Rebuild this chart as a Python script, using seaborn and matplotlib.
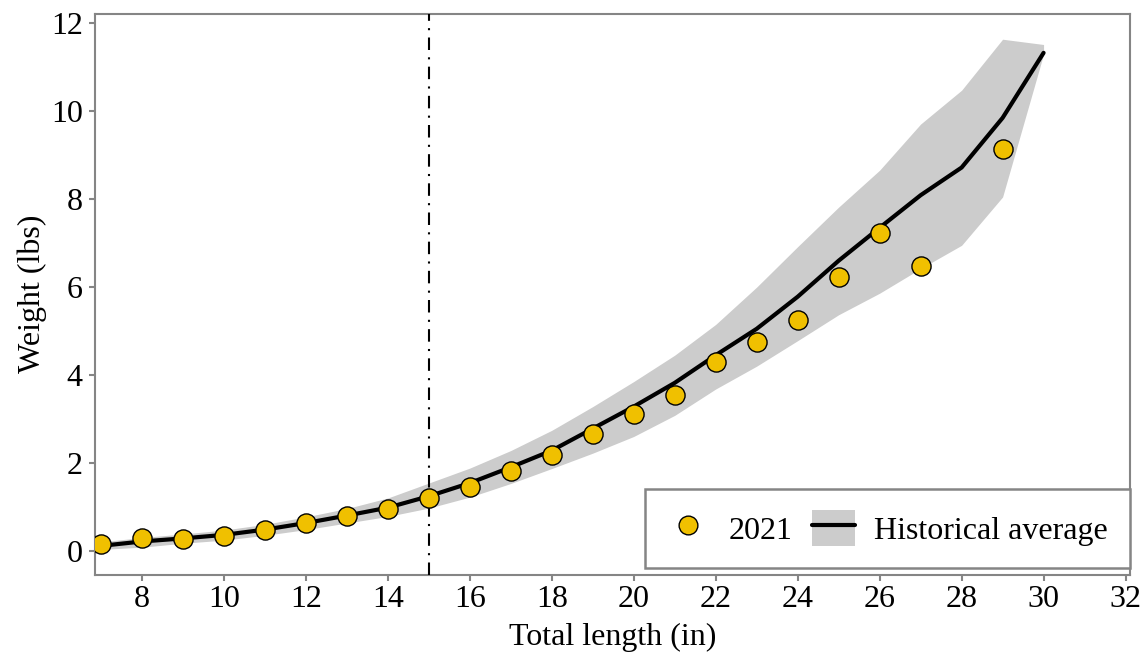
import matplotlib
matplotlib.use("Agg")
import matplotlib.pyplot as plt
from matplotlib.lines import Line2D
from matplotlib.patches import Patch
from matplotlib.legend_handler import HandlerTuple
import numpy as np
import pandas as pd
import seaborn as sns

# Historical length-weight relationship (mean with min/max envelope)
hist_length = [7, 8, 9, 10, 11, 12, 13, 14, 15, 16, 17, 18, 19, 20, 21, 22,
               23, 24, 25, 26, 27, 28, 29, 30]
hist_mean = [0.11, 0.21, 0.28, 0.36, 0.48, 0.63, 0.80, 0.98, 1.24, 1.54, 1.90,
             2.28, 2.78, 3.28, 3.82, 4.45, 5.05, 5.78, 6.60, 7.35, 8.09, 8.72,
             9.85, 11.33]
hist_upper = [0.20, 0.30, 0.38, 0.47, 0.60, 0.77, 0.96, 1.20, 1.54, 1.88, 2.28,
              2.74, 3.28, 3.85, 4.45, 5.15, 6.00, 6.92, 7.82, 8.66, 9.71, 10.48,
              11.64, 11.52]
hist_lower = [0.03, 0.08, 0.17, 0.24, 0.35, 0.48, 0.63, 0.78, 0.97, 1.22, 1.53,
              1.87, 2.22, 2.60, 3.08, 3.68, 4.20, 4.78, 5.37, 5.86, 6.42, 6.95,
              8.05, 11.30]

# 2021 sample mean weights by length
length_2021 = [7, 8, 9, 10, 11, 12, 13, 14, 15, 16, 17, 18, 19, 20, 21, 22,
               23, 24, 25, 26, 27, 29]
weight_2021 = [0.16, 0.29, 0.27, 0.34, 0.48, 0.62, 0.79, 0.95, 1.20, 1.46, 1.81,
               2.18, 2.65, 3.12, 3.55, 4.29, 4.76, 5.25, 6.23, 7.24, 6.47, 9.15]

min_length = 15
x_ticks = [8, 10, 12, 14, 16, 18, 20, 22, 24, 26, 28, 30, 32]
y_ticks = [0, 2, 4, 6, 8, 10, 12]

hist = pd.DataFrame({"length": hist_length, "mean": hist_mean,
                     "lower": hist_lower, "upper": hist_upper})
cur = pd.DataFrame({"length": length_2021, "weight": weight_2021})

sns.set_style("white")
plt.rcParams["font.family"] = ["Liberation Serif", "DejaVu Serif"]
plt.rcParams["text.color"] = "black"
plt.rcParams["axes.labelcolor"] = "black"

FONT = 23
AXIS_GREY = "#858585"
BAND = "#cccccc"
GOLD = "#f0c000"

fig, ax = plt.subplots(figsize=(11.48, 6.54), dpi=100)
fig.subplots_adjust(left=0.083, right=0.984, top=0.979, bottom=0.121)

ax.fill_between(hist["length"], hist["lower"], hist["upper"],
                color=BAND, linewidth=0, zorder=1)
sns.lineplot(data=hist, x="length", y="mean", ax=ax, color="black",
             linewidth=3.0, zorder=2, legend=False)
ax.axvline(min_length, color="black", linewidth=1.5,
           linestyle=(0, (6, 3.5, 1, 3.5)), zorder=3)
sns.scatterplot(data=cur, x="length", y="weight", ax=ax, s=190,
                color=GOLD, edgecolor="black", linewidth=1.0, zorder=4,
                legend=False)

ax.set_xlim(6.86, 32.1)
ax.set_ylim(-0.55, 12.22)
ax.set_xticks(x_ticks)
ax.set_yticks(y_ticks)
ax.set_xlabel("Total length (in)", fontsize=FONT, labelpad=7)
ax.set_ylabel("Weight (lbs)", fontsize=FONT, labelpad=3)
ax.tick_params(axis="both", labelsize=FONT, colors=AXIS_GREY,
               labelcolor="black", length=4, width=1.5, direction="out",
               left=True, bottom=True)
ax.tick_params(axis="x", pad=3)
ax.tick_params(axis="y", pad=5)
for side in ax.spines.values():
    side.set_color(AXIS_GREY)
    side.set_linewidth(1.5)
ax.grid(False)

h_pts = Line2D([], [], linestyle="none", marker="o", markersize=13.5,
               markerfacecolor=GOLD, markeredgecolor="black",
               markeredgewidth=1.0)
h_hist = (Patch(facecolor=BAND, edgecolor="none"),
          Line2D([], [], color="black", linewidth=3.0))
leg = ax.legend([h_pts, h_hist], ["2021", "Historical average"], ncol=2,
                loc="lower right", bbox_to_anchor=(1.0, 0.0125),
                borderaxespad=0, fontsize=FONT, frameon=True, fancybox=False,
                handlelength=1.35, handleheight=1.35, handletextpad=0.6,
                columnspacing=0.6, borderpad=0.68,
                handler_map={tuple: HandlerTuple(ndivide=1, pad=0)})
frame = leg.get_frame()
frame.set_edgecolor(AXIS_GREY)
frame.set_linewidth(1.8)
frame.set_alpha(1)

fig.savefig("out.png", dpi=100)
